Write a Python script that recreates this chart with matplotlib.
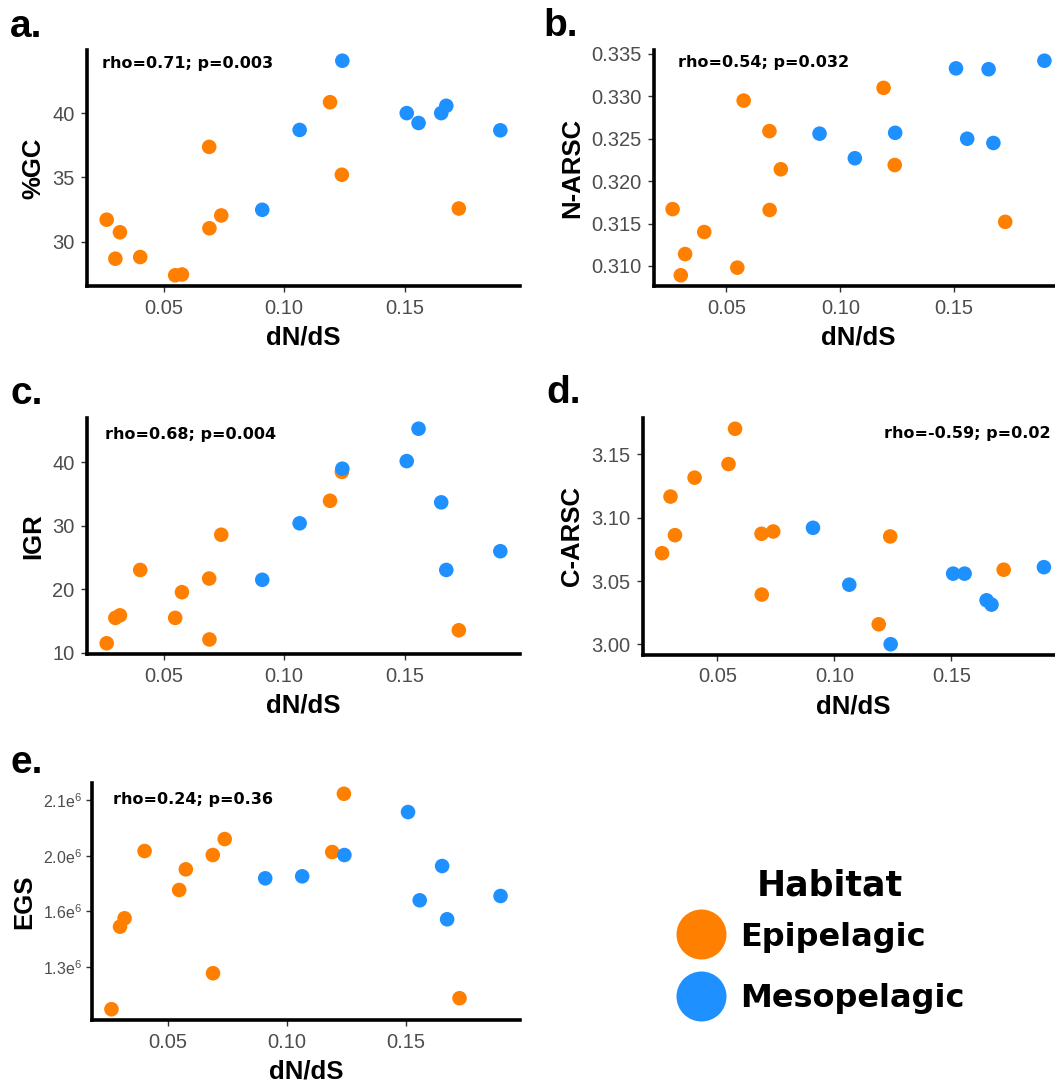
import matplotlib
matplotlib.use("Agg")
import matplotlib.pyplot as plt
from matplotlib.lines import Line2D

plt.rcParams['font.family'] = ['Liberation Sans', 'DejaVu Sans']
plt.rcParams['mathtext.fontset'] = 'custom'
plt.rcParams['mathtext.rm'] = 'Liberation Sans'
plt.rcParams['mathtext.it'] = 'Liberation Sans'

ORANGE = '#FF7F00'
BLUE = '#1E90FF'

# ---- data: dN/dS per genome, by habitat ----
epi_dnds = [0.0264, 0.0300, 0.0319, 0.0403, 0.0548, 0.0576, 0.0689, 0.0690, 0.0739, 0.1190, 0.1239, 0.1724]
meso_dnds = [0.0909, 0.1064, 0.1241, 0.1508, 0.1557, 0.1651, 0.1672, 0.1896]

epi_gc = [31.7, 28.66, 30.72, 28.79, 27.37, 27.43, 37.37, 31.03, 32.03, 40.85, 35.20, 32.57]
meso_gc = [32.47, 38.69, 44.08, 40.0, 39.23, 40.0, 40.57, 38.66]

epi_narsc = [0.3167, 0.3089, 0.3114, 0.3140, 0.3098, 0.3295, 0.3259, 0.3166, 0.3214, 0.3310, 0.3219, 0.3152]
meso_narsc = [0.3256, 0.3227, 0.3257, 0.3333, 0.3250, 0.3332, 0.3245, 0.3342]

epi_igr = [11.5, 15.5, 15.9, 23.05, 15.5, 19.55, 21.7, 12.1, 28.6, 33.95, 38.5, 13.55]
meso_igr = [21.5, 30.4, 39.0, 40.2, 45.3, 33.7, 23.05, 26.0]

epi_carsc = [3.0719, 3.1165, 3.0861, 3.1314, 3.1421, 3.1699, 3.0872, 3.0393, 3.0890, 3.0159, 3.0851, 3.0589]
meso_carsc = [3.0919, 3.0471, 3.0002, 3.0558, 3.0558, 3.0348, 3.0314, 3.0609]

epi_egs = [1.0727e6, 1.5176e6, 1.5628e6, 1.9253e6, 1.7153e6, 1.8267e6, 1.9038e6, 1.2666e6, 1.9899e6, 1.9199e6, 2.2339e6, 1.1320e6]
meso_egs = [1.7783e6, 1.7890e6, 1.9038e6, 2.1354e6, 1.6598e6, 1.8445e6, 1.5575e6, 1.6829e6]

egs_ticks = [1.3e6, 1.6e6, 1.9e6, 2.2e6]
egs_ticklabels = ['1.3e$^6$', '1.6e$^6$', '2.0e$^6$', '2.1e$^6$']

gc_ticks = [30, 35, 40]
narsc_ticks = [0.310, 0.315, 0.320, 0.325, 0.330, 0.335]
igr_ticks = [10, 20, 30, 40]
carsc_ticks = [3.00, 3.05, 3.10, 3.15]
x_ticks = [0.05, 0.10, 0.15]

habitats = ['Epipelagic', 'Mesopelagic']
legend_title = 'Habitat'
stats = ['rho=0.71; p=0.003', 'rho=0.54; p=0.032', 'rho=0.68; p=0.004',
         'rho=-0.59; p=0.02', 'rho=0.24; p=0.36']

W, H = 1055, 1088
fig = plt.figure(figsize=(W / 100, H / 100), dpi=100)


def px_axes(left, top, right, bottom):
    return fig.add_axes([left / W, (H - bottom) / H, (right - left) / W, (bottom - top) / H])


panels = [
    dict(box=(87, 50, 520, 286), ey=epi_gc, my=meso_gc, yl='%GC', yt=gc_ticks, ytl=None,
         fmt='{:g}', lab='a.', labpos=(10, 37), st=(0.034, 0.944)),
    dict(box=(654, 50, 1063, 286), ey=epi_narsc, my=meso_narsc, yl='N-ARSC', yt=narsc_ticks, ytl=None,
         fmt='{:.3f}', lab='b.', labpos=(543, 36), st=(0.058, 0.948)),
    dict(box=(87, 418, 520, 654), ey=epi_igr, my=meso_igr, yl='IGR', yt=igr_ticks, ytl=None,
         fmt='{:g}', lab='c.', labpos=(10, 404), st=(0.042, 0.929)),
    dict(box=(643, 418, 1063, 655), ey=epi_carsc, my=meso_carsc, yl='C-ARSC', yt=carsc_ticks, ytl=None,
         fmt='{:.2f}', lab='d.', labpos=(546, 403), st=(0.574, 0.934)),
    dict(box=(92, 783, 520, 1020), ey=epi_egs, my=meso_egs, yl='EGS', yt=egs_ticks, ytl=egs_ticklabels,
         fmt=None, lab='e.', labpos=(10, 773), st=(0.048, 0.932)),
]

for i, p in enumerate(panels):
    ax = px_axes(*p['box'])
    ax.scatter(epi_dnds, p['ey'], s=110, color=ORANGE, edgecolors='none', zorder=3)
    ax.scatter(meso_dnds, p['my'], s=110, color=BLUE, edgecolors='none', zorder=3)
    ax.margins(0.05)
    for s in ['top', 'right']:
        ax.spines[s].set_visible(False)
    for s in ['left', 'bottom']:
        ax.spines[s].set_linewidth(2.6)
        ax.spines[s].set_color('black')
    ax.set_xticks(x_ticks)
    ax.set_xticklabels(['{:.2f}'.format(v) for v in x_ticks])
    ax.set_yticks(p['yt'])
    if p['ytl'] is not None:
        ax.set_yticklabels(p['ytl'], fontsize=11.5)
    else:
        ax.set_yticklabels([p['fmt'].format(v) for v in p['yt']])
    ax.tick_params(axis='both', length=4, width=1, color='#333333', labelcolor='#4D4D4D',
                   labelsize=14.5, pad=5)
    if p['ytl'] is not None:
        ax.tick_params(axis='y', labelsize=11.5, pad=3)
    ax.set_xlabel('dN/dS', fontsize=18.5, fontweight='bold', labelpad=6)
    ax.set_ylabel(p['yl'], fontsize=18.5, fontweight='bold', labelpad=5)
    ax.text(p['st'][0], p['st'][1], stats[i], transform=ax.transAxes, ha='left', va='center',
            fontsize=11.5, fontweight='bold', family='DejaVu Sans')
    fig.text(p['labpos'][0] / W, 1 - p['labpos'][1] / H, p['lab'], fontsize=28,
             fontweight='bold', ha='left', va='baseline')

# legend
handles = [Line2D([], [], marker='o', linestyle='none', markersize=36, markerfacecolor=c,
                  markeredgecolor='none') for c in (ORANGE, BLUE)]
leg = fig.legend(handles, habitats, loc='center',
                 bbox_to_anchor=(820 / W, 1 - 968 / H), frameon=False,
                 prop=dict(family='DejaVu Sans', weight='bold', size=23),
                 handletextpad=0.45, labelspacing=0.97, handlelength=1.6, borderpad=0)
fig.text(830 / W, 1 - 885 / H, legend_title, ha='center', va='center',
         family='DejaVu Sans', fontweight='bold', fontsize=25)

fig.savefig('out.png', dpi=100)
